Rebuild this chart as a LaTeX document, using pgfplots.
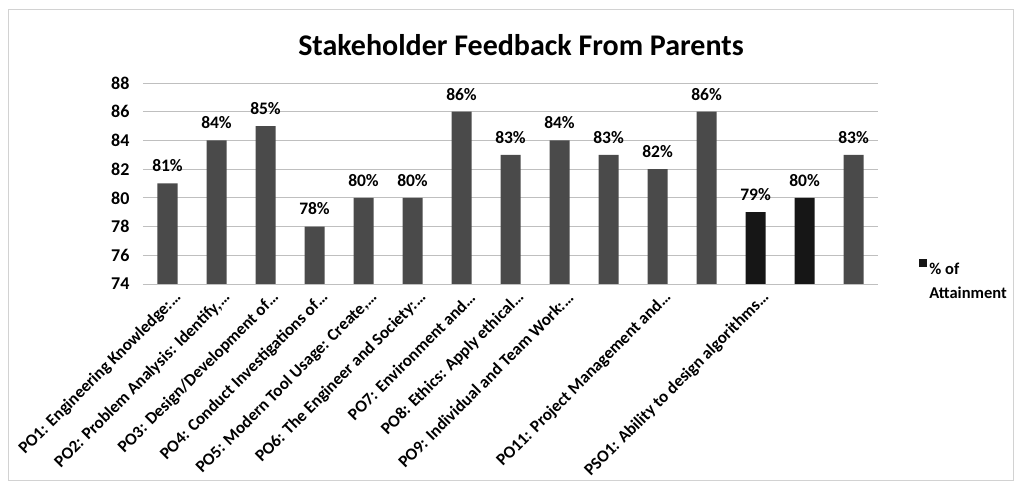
\documentclass[border=0pt]{standalone}
\usepackage{fontspec}
\setmainfont{Carlito}
\usepackage{pgfplots}
\pgfplotsset{compat=1.18}
\definecolor{barmain}{HTML}{4A4A4A}
\definecolor{bardark}{HTML}{161616}
\begin{document}
\begin{tikzpicture}[x=1pt,y=1pt]
\useasboundingbox (0,0) rectangle (1018,487);
\draw[gray!35, line width=1pt] (8,6) rectangle (1013,477);
\node[font=\bfseries\fontsize{30}{34}\selectfont] at (521,442) {Stakeholder Feedback From Parents};
\begin{axis}[
  at={(143pt,203pt)}, anchor=south west,
  scale only axis, width=735pt, height=201pt,
  xmin=-0.5, xmax=14.5, ymin=74, ymax=88,
  ytick={74,76,...,88},
  xtick={0,...,14},
  xticklabels={PO1: Engineering Knowledge:…, {PO2: Problem Analysis: Identify,…}, PO3: Design/Development of…, PO4: Conduct Investigations of…, {PO5: Modern Tool Usage: Create,…}, PO6: The Engineer and Society:…, PO7: Environment and…, PO8: Ethics: Apply ethical…, PO9: Individual and Team Work:…, {}, PO11: Project Management and…, {}, PSO1: Ability to design algorithms…, {}, {}},
  axis line style={draw=none},
  major tick length=0pt,
  ymajorgrids, grid style={gray!50, line width=0.9pt},
  /pgf/number format/assume math mode=true,
  yticklabel style={font=\bfseries\fontsize{18}{20}\selectfont, xshift=-10pt},
  xticklabel style={font=\bfseries\fontsize{17}{20}\selectfont, inner sep=0pt, xshift=11pt, yshift=-11pt, rotate=45, anchor=east},
  ybar, bar width=20pt, bar shift=0pt,
  nodes near coords={\pgfmathprintnumber{\pgfplotspointmeta}\%},
  every node near coord/.append style={font=\bfseries\fontsize{17.5}{20}\selectfont, black, yshift=8pt},
  clip=true,
  legend style={at={(1.052,0.045)}, anchor=west, draw=none, fill=none, font=\bfseries\fontsize{16.5}{19}\selectfont},
  legend image code/.code={\fill[#1] (0pt,8pt) rectangle (8pt,16pt);},
]
\addplot[fill=bardark, draw=none] coordinates {(12,79) (13,80)};
\addlegendentry{\begin{tabular}{@{}l@{}}\% of\\[5pt]Attainment\end{tabular}}
\addplot[fill=barmain, draw=none, forget plot] coordinates {(0,81) (1,84) (2,85) (3,78) (4,80) (5,80) (6,86) (7,83) (8,84) (9,83) (10,82) (11,86) (14,83)};
\end{axis}
\end{tikzpicture}
\end{document}
